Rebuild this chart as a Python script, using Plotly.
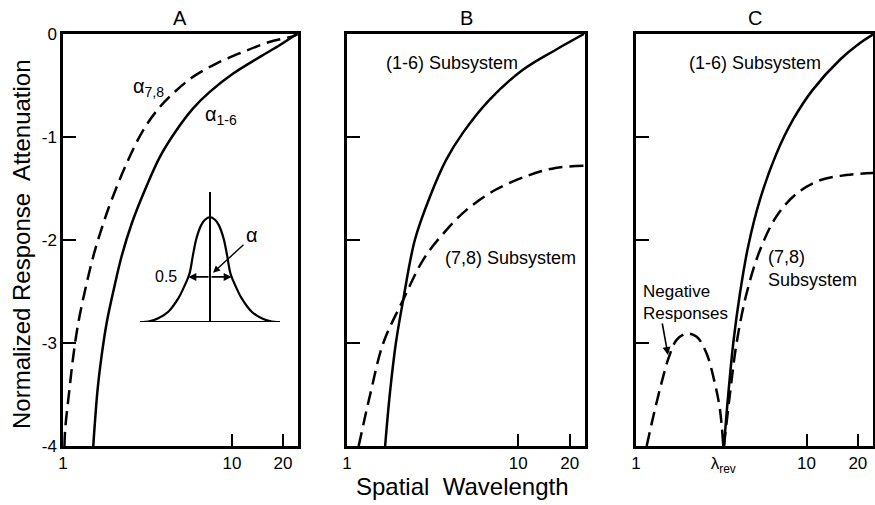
import plotly.graph_objects as go

W, H = 875, 505
FONT = "Liberation Sans"

# ---------------- data ----------------
# Panel A
a16_x = [1.51, 1.60, 1.69, 1.81, 1.99, 2.22, 2.55, 3.06, 3.75, 4.71, 5.90, 7.41, 10.2, 14.7, 19.2, 24.1]
a16_y = [-4.0, -3.46, -3.13, -2.81, -2.49, -2.16, -1.84, -1.51, -1.19, -0.93, -0.72, -0.56,
         -0.382, -0.22, -0.107, 0.0]
a78_x = [1.02, 1.03, 1.09, 1.15, 1.23, 1.35, 1.51, 1.73, 1.94, 2.38, 2.99, 3.75, 4.71, 5.90,
         8.12, 11.7, 16.8, 23.1, 24.4]
a78_y = [-4.0, -3.84, -3.46, -3.13, -2.81, -2.49, -2.16, -1.84, -1.61, -1.255, -0.93, -0.706,
         -0.544, -0.414, -0.285, -0.172, -0.075, -0.02, 0.0]

# Panel B
b16_x = [1.67, 1.78, 1.93, 2.13, 2.49, 3.05, 3.80, 4.75, 6.79, 10.6, 16.5, 24.2]
b16_y = [-4.0, -3.49, -3.0, -2.58, -2.0, -1.58, -1.22, -0.96, -0.64, -0.35, -0.155, 0.0]
b78_x = [1.17, 1.37, 1.63, 2.13, 2.79, 3.64, 4.97, 7.42, 11.6, 16.5, 24.2]
b78_y = [-4.0, -3.49, -3.0, -2.58, -2.19, -1.94, -1.71, -1.51, -1.37, -1.30, -1.28]

# Panel C
c16_x = [3.28, 3.48, 3.72, 4.07, 4.55, 5.33, 6.67, 8.35, 10.9, 15.7, 20.5, 24.8]
c16_y = [-4.0, -3.49, -3.0, -2.52, -2.06, -1.61, -1.16, -0.83, -0.54, -0.25, -0.09, 0.0]
c78neg_x = [1.155, 1.26, 1.41, 1.55, 1.73, 1.98, 2.27, 2.59, 2.90, 3.11, 3.25]
c78neg_y = [-4.0, -3.72, -3.39, -3.15, -2.97, -2.91, -2.94, -3.10, -3.39, -3.65, -4.0]
c78pos_x = [3.28, 3.56, 3.89, 4.45, 5.33, 6.67, 8.74, 12.0, 17.1, 24.8]
c78pos_y = [-4.0, -3.49, -3.0, -2.52, -2.10, -1.77, -1.55, -1.42, -1.37, -1.35]

lambda_rev = 3.25

# Inset profile (schematic weighting function), right half, mirrored below
ins_half_x = [0.0, 0.5, 0.88, 1.35, 1.7, 2.0, 2.2, 2.57, 3.17, 4.17, 5.17, 6.17, 7.0]
ins_half_y = [1.0, 0.975, 0.924, 0.80, 0.64, 0.48, 0.42, 0.34, 0.225, 0.098, 0.035, 0.003, 0.0]
ins_x = [-v for v in ins_half_x[::-1]] + ins_half_x[1:]
ins_y = ins_half_y[::-1] + ins_half_y[1:]
half_level = 0.43
half_width = 2.17

y_ticks = [0, -1, -2, -3, -4]
x_ticks_ab = [1, 10, 20]
x_ticks_c = [1, lambda_rev, 10, 20]
x_text_c = ["1", "λ<sub>rev</sub>", "10", "20"]


def px(x):
    return x / W


def py(y):
    return 1 - y / H


fig = go.Figure()

LW = 2.5
solid = dict(color="black", width=LW, shape="spline", smoothing=1.0)
dashed = dict(color="black", width=LW, dash="14px,7px", shape="spline", smoothing=1.0)

fig.add_trace(go.Scatter(x=a16_x, y=a16_y, mode="lines", line=solid, xaxis="x", yaxis="y"))
fig.add_trace(go.Scatter(x=a78_x, y=a78_y, mode="lines", line=dashed, xaxis="x", yaxis="y"))
fig.add_trace(go.Scatter(x=b16_x, y=b16_y, mode="lines", line=solid, xaxis="x2", yaxis="y2"))
fig.add_trace(go.Scatter(x=b78_x, y=b78_y, mode="lines", line=dashed, xaxis="x2", yaxis="y2"))
fig.add_trace(go.Scatter(x=c16_x, y=c16_y, mode="lines", line=solid, xaxis="x3", yaxis="y3"))
fig.add_trace(go.Scatter(x=c78neg_x, y=c78neg_y, mode="lines", line=dashed, xaxis="x3", yaxis="y3"))
fig.add_trace(go.Scatter(x=c78pos_x, y=c78pos_y, mode="lines", line=dashed, xaxis="x3", yaxis="y3"))

# inset
fig.add_trace(go.Scatter(x=ins_x, y=ins_y, mode="lines",
                         line=dict(color="black", width=2.2, shape="spline", smoothing=1.0),
                         xaxis="x4", yaxis="y4"))
fig.add_trace(go.Scatter(x=[-7, 7], y=[0, 0], mode="lines",
                         line=dict(color="black", width=2), xaxis="x4", yaxis="y4"))
fig.add_trace(go.Scatter(x=[0, 0], y=[0, 1.24], mode="lines",
                         line=dict(color="black", width=2), xaxis="x4", yaxis="y4"))

tickfont = dict(family=FONT, size=17, color="black")
xr = [0, 1.39]
ydom = [py(446), py(34)]
common_x = dict(type="log", range=xr, showline=True, mirror=True, linecolor="black",
                linewidth=2.5, ticks="inside", ticklen=12, tickwidth=2, tickcolor="black",
                showgrid=False, zeroline=False, tickfont=tickfont, automargin=False)
common_y = dict(range=[-4, 0], showline=True, mirror=True, linecolor="black",
                linewidth=2.5, ticks="inside", ticklen=13, tickwidth=2, tickcolor="black",
                showgrid=False, zeroline=False, tickfont=tickfont, tickvals=y_ticks,
                domain=ydom, automargin=False)

fig.update_layout(
    width=W, height=H,
    margin=dict(l=0, r=0, t=0, b=0),
    paper_bgcolor="white", plot_bgcolor="rgba(0,0,0,0)",
    showlegend=False,
    font=dict(family=FONT, color="black"),
    xaxis=dict(common_x, domain=[px(63), px(298)], tickvals=x_ticks_ab,
               ticktext=[str(v) for v in x_ticks_ab], anchor="y"),
    yaxis=dict(common_y, anchor="x", ticktext=[str(v) for v in y_ticks]),
    xaxis2=dict(common_x, domain=[px(347), px(585)], tickvals=x_ticks_ab,
                ticktext=[str(v) for v in x_ticks_ab], anchor="y2"),
    yaxis2=dict(common_y, anchor="x2", showticklabels=False),
    xaxis3=dict(common_x, domain=[px(636), px(873)], tickvals=x_ticks_c,
                ticktext=x_text_c, anchor="y3"),
    yaxis3=dict(common_y, anchor="x3", showticklabels=False),
    xaxis4=dict(domain=[px(140), px(280)], range=[-7, 7], visible=False, anchor="y4"),
    yaxis4=dict(domain=[py(322), py(192)], range=[0, 1.24], visible=False, anchor="x4"),
)

ann = []


def text(x, y, s, size=18, xanchor="center", yanchor="middle", align="center", angle=0):
    ann.append(dict(x=px(x), y=py(y), xref="paper", yref="paper", text=s, showarrow=False,
                    xanchor=xanchor, yanchor=yanchor, align=align, textangle=angle,
                    font=dict(family=FONT, size=size, color="black")))


# panel titles
text(180, 18, "A", 20)
text(466, 18, "B", 20)
text(755, 18, "C", 20)
# axis titles
text(21, 244, "Normalized Response  Attenuation", 24, angle=-90)
text(462, 486, "Spatial  Wavelength", 24)
# curve labels
text(131, 88, "α<sub>7,8</sub>", 20, xanchor="left")
text(203, 116, "α<sub>1-6</sub>", 20, xanchor="left")
text(452, 63, "(1-6) Subsystem", 18)
text(510, 258, "(7,8) Subsystem", 18)
text(755, 63, "(1-6) Subsystem", 18)
text(766, 268, "(7,8)<br>Subsystem", 18, xanchor="left", align="left")
text(641, 302, "Negative<br>Responses", 17, xanchor="left", align="left")

# arrow to negative responses
ann.append(dict(x=px(668), y=py(355), xref="paper", yref="paper", ax=-6, ay=-33,
                showarrow=True, arrowhead=2, arrowsize=1, arrowwidth=1.6, arrowcolor="black",
                text=""))

# inset annotations
for sgn in (-1, 1):
    ann.append(dict(x=sgn * half_width, y=half_level, xref="x4", yref="y4",
                    ax=0, ay=half_level, axref="x4", ayref="y4", text="",
                    showarrow=True, arrowhead=2, arrowsize=1, arrowwidth=1.6,
                    arrowcolor="black"))
ann.append(dict(x=0.3, y=0.47, xref="x4", yref="y4", ax=3.5, ay=0.75, axref="x4",
                ayref="y4", text="", showarrow=True, arrowhead=2, arrowsize=1,
                arrowwidth=1.4, arrowcolor="black"))
ann.append(dict(x=-4.4, y=0.43, xref="x4", yref="y4", text="0.5", showarrow=False,
                font=dict(family=FONT, size=16, color="black")))
ann.append(dict(x=4.2, y=0.83, xref="x4", yref="y4", text="α", showarrow=False,
                font=dict(family=FONT, size=20, color="black")))

fig.update_layout(annotations=ann)

fig.write_html("out.html", config={"displayModeBar": False},
               post_script="document.body.style.margin='0';document.body.style.padding='0';")
